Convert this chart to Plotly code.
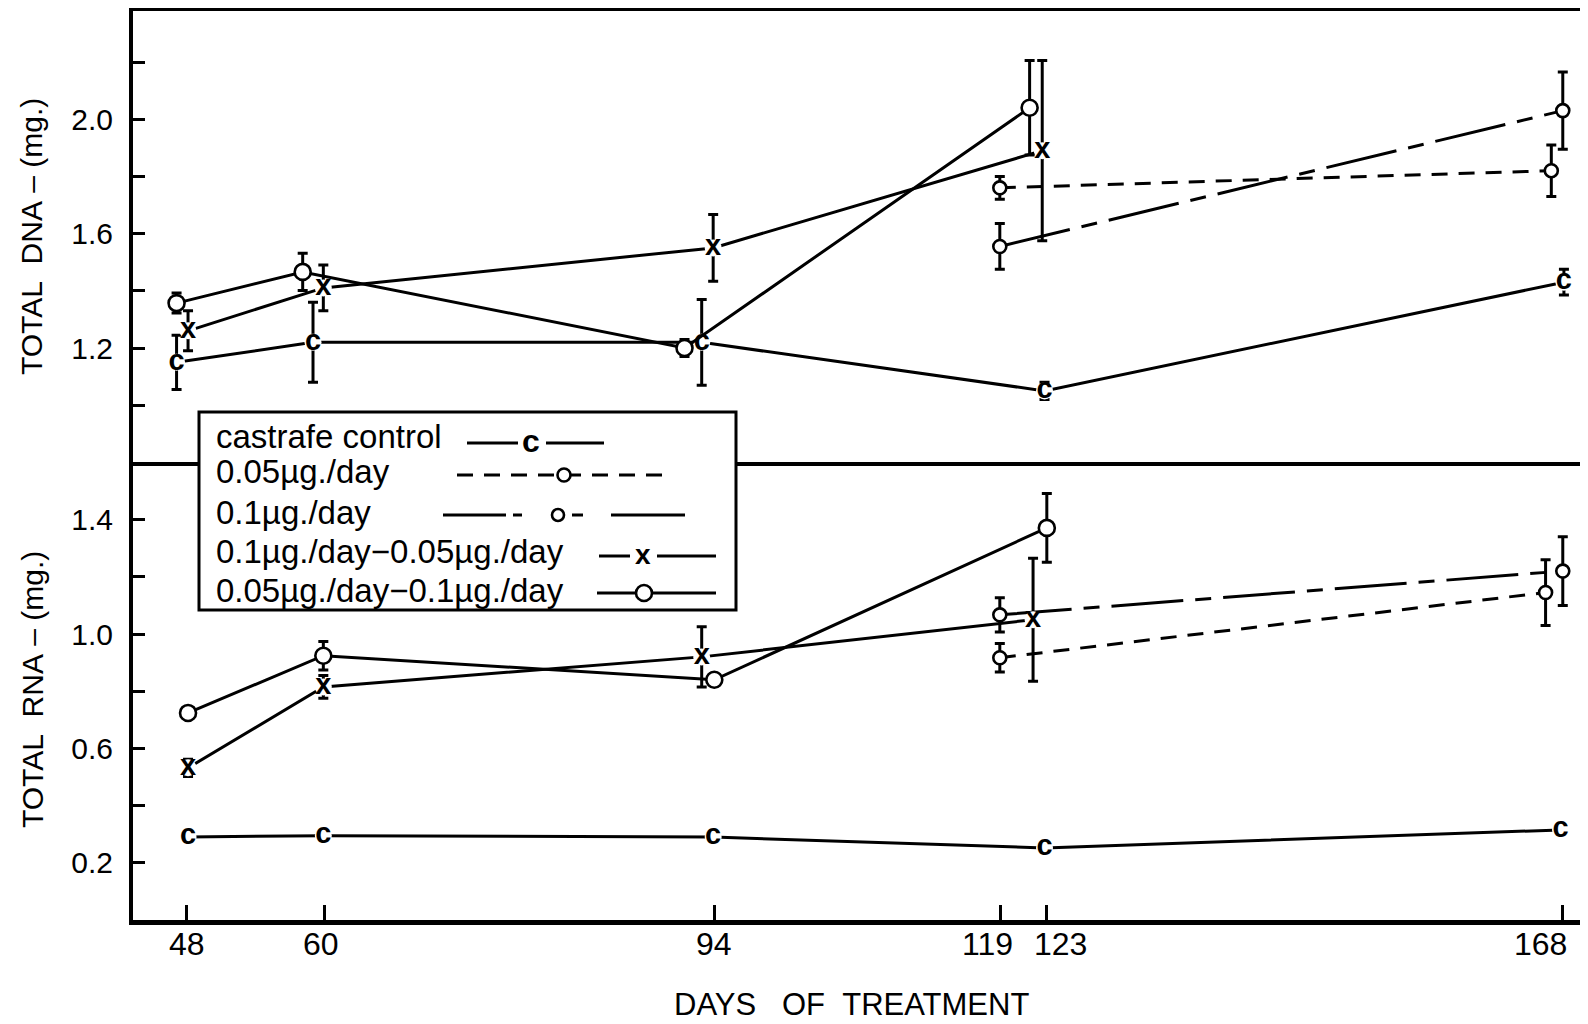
import plotly.graph_objects as go
from plotly.subplots import make_subplots

# ---------------- data ----------------
tick_days = [48, 60, 94, 119, 123, 168]
tick_labels = ["48", "60", "94", "119", "123", "168"]

# TOTAL DNA (mg.)
dna_ctrl_days = [47.1, 59.0, 92.9, 122.8, 168.1]
dna_ctrl = [1.15, 1.22, 1.22, 1.05, 1.43]
dna_ctrl_err = [0.095, 0.14, 0.15, 0.03, 0.045]

dna_005_days = [118.9, 167.0]
dna_005 = [1.76, 1.82]
dna_005_err = [0.04, 0.09]

dna_01_days = [118.9, 168.0]
dna_01 = [1.555, 2.03]
dna_01_err = [0.08, 0.135]

dna_01_005_days = [48.1, 59.9, 93.9, 122.6]
dna_01_005 = [1.26, 1.41, 1.55, 1.89]
dna_01_005_err = [0.07, 0.08, 0.117, 0.315]

dna_005_01_days = [47.1, 58.1, 91.4, 121.5]
dna_005_01 = [1.357, 1.466, 1.20, 2.04]
dna_005_01_err = [0.035, 0.065, 0.03, 0.165]

# TOTAL RNA (mg.)
rna_ctrl_days = [48.1, 59.9, 93.9, 122.8, 167.8]
rna_ctrl = [0.29, 0.295, 0.29, 0.252, 0.315]

rna_005_days = [118.9, 166.5]
rna_005 = [0.917, 1.145]
rna_005_err = [0.05, 0.115]

rna_01_days = [118.9, 168.0]
rna_01 = [1.067, 1.22]
rna_01_err = [0.06, 0.12]

rna_01_005_days = [48.1, 59.9, 92.9, 121.8]
rna_01_005 = [0.532, 0.815, 0.92, 1.05]
rna_01_005_err = [0.03, 0.04, 0.105, 0.215]

rna_005_01_days = [48.1, 59.9, 94.0, 123.0]
rna_005_01 = [0.724, 0.924, 0.84, 1.371]
rna_005_01_err = [0.0, 0.05, 0.02, 0.12]

legend_labels = [
    "castrafe control",
    "0.05\u00b5g./day",
    "0.1\u00b5g./day",
    "0.1\u00b5g./day\u22120.05\u00b5g./day",
    "0.05\u00b5g./day\u22120.1\u00b5g./day",
]

# ---------------- styling ----------------
OFF = 8                      # default page margin of the html body
W, H = 1588 - OFF, 1024 - OFF
ML, MR, MT, MB = 133 - OFF, 0, 3, 1024 - 920
PW = W - ML - MR
PH = H - MT - MB
PX_PER_UNIT = 286.0
BOTTOM_RANGE = [0, 1.6]
bottom_px = (BOTTOM_RANGE[1] - BOTTOM_RANGE[0]) * PX_PER_UNIT
bottom_frac = bottom_px / PH
TOP_RANGE = [0.8, 0.8 + (PH - bottom_px) / PX_PER_UNIT]

FONT = "Liberation Sans, Arial, sans-serif"
NARROW = "Liberation Sans Narrow, Arial Narrow, Liberation Sans, sans-serif"
SHORT_DASH = "16px,11px"
LONG_DASH = "72px,12px,16px,12px"


def pxx(px):
    """page pixel x -> paper x"""
    return (px - OFF - ML) / PW


def pyy(py):
    """page pixel y -> paper y"""
    return (920 - py) / PH


fig = make_subplots(rows=2, cols=1, shared_xaxes=True, vertical_spacing=0)


def add_series(x, y, err, row, kind, dash="solid", size=13):
    tr = dict(
        x=x, y=y,
        line=dict(color="black", width=3, dash=dash),
        showlegend=False,
        hoverinfo="skip",
        cliponaxis=False,
    )
    if err is not None:
        tr["error_y"] = dict(type="data", array=err, visible=True,
                             color="black", thickness=3, width=5)
    if kind in ("c", "x"):
        tr["mode"] = "lines+markers+text"
        tr["marker"] = dict(symbol="circle", size=17, color="white",
                            line=dict(width=0))
        tr["text"] = [kind] * len(x)
        tr["textposition"] = "middle center"
        tr["textfont"] = dict(family=FONT, size=29, color="black",
                              weight="bold")
    else:
        tr["mode"] = "lines+markers"
        tr["marker"] = dict(symbol="circle", size=size, color="white",
                            line=dict(width=2.6, color="black"))
    fig.add_trace(go.Scatter(**tr), row=row, col=1)


# DNA panel (row 1)
add_series(dna_ctrl_days, dna_ctrl, dna_ctrl_err, 1, "c")
add_series(dna_005_days, dna_005, dna_005_err, 1, "o", SHORT_DASH, 13)
add_series(dna_01_days, dna_01, dna_01_err, 1, "o", LONG_DASH, 13)
add_series(dna_01_005_days, dna_01_005, dna_01_005_err, 1, "x")
add_series(dna_005_01_days, dna_005_01, dna_005_01_err, 1, "o", "solid", 16)

# RNA panel (row 2)
add_series(rna_ctrl_days, rna_ctrl, None, 2, "c")
add_series(rna_005_days, rna_005, rna_005_err, 2, "o", SHORT_DASH, 13)
add_series(rna_01_days, rna_01, rna_01_err, 2, "o", LONG_DASH, 13)
add_series(rna_01_005_days, rna_01_005, rna_01_005_err, 2, "x")
add_series(rna_005_01_days, rna_005_01, rna_005_01_err, 2, "o", "solid", 16)

XR = [43.3, 170.2]

fig.update_layout(
    width=W, height=H,
    margin=dict(l=ML, r=MR, t=MT, b=MB, pad=0),
    paper_bgcolor="white", plot_bgcolor="white",
    showlegend=False,
    font=dict(family=FONT, color="black"),
    xaxis=dict(domain=[0, 1], range=XR, showline=True, linecolor="black",
               linewidth=4, mirror=True, ticks="", showticklabels=False,
               showgrid=False, zeroline=False),
    xaxis2=dict(domain=[0, 1], range=XR, showline=True, linecolor="black",
                linewidth=5, ticks="inside", ticklen=15, tickwidth=2.5,
                tickcolor="black", tickvals=tick_days, showticklabels=False,
                showgrid=False, zeroline=False),
    yaxis=dict(domain=[bottom_frac, 1], range=TOP_RANGE, showline=True,
               linecolor="black", linewidth=4, ticks="inside", ticklen=12,
               tickwidth=3, tickcolor="black",
               tickvals=[1.0, 1.2, 1.4, 1.6, 1.8, 2.0, 2.2],
               ticktext=["", "1.2", "", "1.6", "", "2.0", ""],
               tickfont=dict(family=FONT, size=30, color="black"),
               ticklabelstandoff=10,
               showgrid=False, zeroline=False),
    yaxis2=dict(domain=[0, bottom_frac], range=BOTTOM_RANGE, showline=True,
                linecolor="black", linewidth=4, ticks="inside", ticklen=12,
                tickwidth=3, tickcolor="black",
                tickvals=[0.2, 0.4, 0.6, 0.8, 1.0, 1.2, 1.4],
                ticktext=["0.2", "", "0.6", "", "1.0", "", "1.4"],
                tickfont=dict(family=FONT, size=30, color="black"),
                ticklabelstandoff=10,
                showgrid=False, zeroline=False),
)

annotations = []
# x tick labels (placed at tick days, slight pixel shifts as in the original)
label_shift = [0, -3, 0, -13, 14, -22]
for d, t, s in zip(tick_days, tick_labels, label_shift):
    annotations.append(dict(x=d, xref="x2", y=pyy(944), yref="paper",
                            text=t, showarrow=False, xshift=s,
                            xanchor="center", yanchor="middle",
                            font=dict(family=NARROW, size=32, color="black")))
# axis titles
annotations.append(dict(x=pxx(851), y=pyy(1004), xref="paper", yref="paper",
                        text="DAYS\u00a0\u00a0\u00a0OF\u00a0\u00a0TREATMENT",
                        showarrow=False, xanchor="center", yanchor="middle",
                        font=dict(family=NARROW, size=31, color="black")))
annotations.append(dict(x=pxx(32), y=pyy(237), xref="paper", yref="paper",
                        text="TOTAL\u00a0\u00a0DNA\u00a0\u2013\u00a0(mg.)",
                        textangle=-90, showarrow=False, xanchor="center",
                        yanchor="middle",
                        font=dict(family=FONT, size=30, color="black")))
annotations.append(dict(x=pxx(32), y=pyy(690), xref="paper", yref="paper",
                        text="TOTAL\u00a0\u00a0RNA\u00a0\u2013\u00a0(mg.)",
                        textangle=-90, showarrow=False, xanchor="center",
                        yanchor="middle",
                        font=dict(family=FONT, size=30, color="black")))

# ---------------- legend (drawn box) ----------------
shapes = []
shapes.append(dict(type="rect", xref="paper", yref="paper",
                   x0=pxx(199), x1=pxx(736), y0=pyy(610), y1=pyy(412),
                   line=dict(color="black", width=3), fillcolor="white",
                   layer="above"))

row_text_y = [436, 472, 512, 551, 590]
row_line_y = [443, 475, 515, 556, 593]
for lbl, ty in zip(legend_labels, row_text_y):
    annotations.append(dict(x=pxx(214), y=pyy(ty), xref="paper", yref="paper",
                            text=lbl, showarrow=False, xanchor="left",
                            yanchor="middle",
                            font=dict(family=FONT, size=33, color="black")))


def hline(x0, x1, y, dash="solid"):
    shapes.append(dict(type="line", xref="paper", yref="paper",
                       x0=pxx(x0), x1=pxx(x1), y0=pyy(y), y1=pyy(y),
                       line=dict(color="black", width=3, dash=dash),
                       layer="above"))


def circ(cx, cy, d, lw=2.6):
    r = d / 2
    shapes.append(dict(type="circle", xref="paper", yref="paper",
                       x0=pxx(cx - r), x1=pxx(cx + r),
                       y0=pyy(cy + r), y1=pyy(cy - r),
                       line=dict(color="black", width=lw), fillcolor="white",
                       layer="above"))


# row 1: castrate control
hline(467, 518, row_line_y[0])
hline(546, 604, row_line_y[0])
annotations.append(dict(x=pxx(531), y=pyy(row_line_y[0] - 2), xref="paper",
                        yref="paper", text="c", showarrow=False,
                        xanchor="center", yanchor="middle",
                        font=dict(family=FONT, size=32, color="black",
                                  weight="bold")))
# row 2: 0.05
hline(457, 662, row_line_y[1], SHORT_DASH)
circ(564, row_line_y[1], 13)
# row 3: 0.1
hline(443, 506, row_line_y[2])
hline(513, 522, row_line_y[2])
hline(572, 583, row_line_y[2])
hline(611, 685, row_line_y[2])
circ(558, row_line_y[2], 12)
# row 4: 0.1 - 0.05
hline(599, 630, row_line_y[3])
hline(657, 716, row_line_y[3])
annotations.append(dict(x=pxx(643), y=pyy(row_line_y[3] - 2), xref="paper",
                        yref="paper", text="x", showarrow=False,
                        xanchor="center", yanchor="middle",
                        font=dict(family=FONT, size=28, color="black",
                                  weight="bold")))
# row 5: 0.05 - 0.1
hline(597, 716, row_line_y[4])
circ(644, row_line_y[4], 16)

fig.update_layout(shapes=shapes, annotations=annotations)

fig.write_html("out.html")
